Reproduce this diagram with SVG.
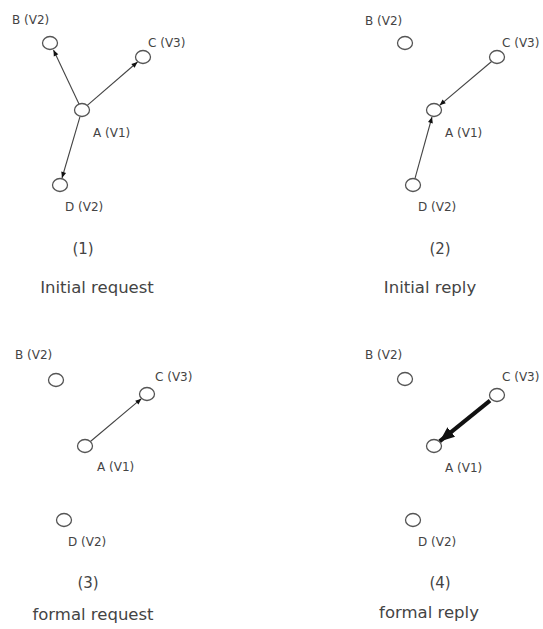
<svg xmlns="http://www.w3.org/2000/svg" width="543" height="629" viewBox="0 0 543 629">
<defs>
<style>
.node ellipse{fill:#fff;stroke:#555;stroke-width:1.3}
.lbl{font-family:"DejaVu Sans",sans-serif;font-size:12px;fill:#444}
.cap{font-family:"DejaVu Sans",sans-serif;font-size:16.5px;fill:#444;text-anchor:middle}
.num{font-family:"DejaVu Sans",sans-serif;font-size:15px;fill:#444;text-anchor:middle}
.thin{stroke:#444;stroke-width:1.1;fill:none;marker-end:url(#ah)}
.thick{stroke:#111;stroke-width:4;fill:none;marker-end:url(#ahb)}
</style>
<marker id="ah" markerUnits="userSpaceOnUse" markerWidth="8" markerHeight="8" viewBox="0 0 8 8" refX="7" refY="4" orient="auto">
<path d="M1,1.5 L7,4 L1,6.5 z" fill="#111"/>
</marker>
<marker id="ahb" markerUnits="userSpaceOnUse" markerWidth="16" markerHeight="14" viewBox="0 0 16 14" refX="15" refY="7" orient="auto">
<path d="M0,1 L15,7 L0,13 z" fill="#111"/>
</marker>
</defs>
<rect width="543" height="629" fill="#fff"/>
<g id="connectors">
<line class="thin" x1="79" y1="104" x2="53.5" y2="50"/>
<line class="thin" x1="87.3" y1="105.4" x2="137.5" y2="62"/>
<line class="thin" x1="80" y1="116.7" x2="62" y2="178"/>
<line class="thin" x1="491.6" y1="61.5" x2="439.6" y2="105.3"/>
<line class="thin" x1="415" y1="178.3" x2="432" y2="117"/>
<line class="thin" x1="90.4" y1="441.5" x2="141.4" y2="398.7"/>
<line class="thick" x1="490" y1="400.6" x2="439.6" y2="441.4"/>
</g>
<g id="p1">
<g id="p1-B" class="node"><ellipse cx="50" cy="43" rx="7.5" ry="6.5"/><text class="lbl" x="12" y="24">B (V2)</text></g>
<g id="p1-C" class="node"><ellipse cx="143" cy="57" rx="7.5" ry="6.5"/><text class="lbl" x="148" y="47">C (V3)</text></g>
<g id="p1-A" class="node"><ellipse cx="82" cy="110" rx="7.5" ry="6.5"/><text class="lbl" x="93" y="137">A (V1)</text></g>
<g id="p1-D" class="node"><ellipse cx="60" cy="185" rx="7.5" ry="6.5"/><text class="lbl" x="65" y="211">D (V2)</text></g>
<text class="num" x="83" y="254">(1)</text>
<text class="cap" x="97" y="293">Initial request</text>
</g>
<g id="p2">
<g id="p2-B" class="node"><ellipse cx="405" cy="43" rx="7.5" ry="6.5"/><text class="lbl" x="365" y="25">B (V2)</text></g>
<g id="p2-C" class="node"><ellipse cx="497" cy="57" rx="7.5" ry="6.5"/><text class="lbl" x="502" y="47">C (V3)</text></g>
<g id="p2-A" class="node"><ellipse cx="434" cy="110" rx="7.5" ry="6.5"/><text class="lbl" x="445" y="137">A (V1)</text></g>
<g id="p2-D" class="node"><ellipse cx="413" cy="185" rx="7.5" ry="6.5"/><text class="lbl" x="418" y="211">D (V2)</text></g>
<text class="num" x="440" y="254">(2)</text>
<text class="cap" x="430" y="293">Initial reply</text>
</g>
<g id="p3">
<g id="p3-B" class="node"><ellipse cx="56" cy="380" rx="7.5" ry="6.5"/><text class="lbl" x="15" y="359">B (V2)</text></g>
<g id="p3-C" class="node"><ellipse cx="147" cy="394" rx="7.5" ry="6.5"/><text class="lbl" x="155" y="381">C (V3)</text></g>
<g id="p3-A" class="node"><ellipse cx="85" cy="446" rx="7.5" ry="6.5"/><text class="lbl" x="97" y="471">A (V1)</text></g>
<g id="p3-D" class="node"><ellipse cx="64" cy="520" rx="7.5" ry="6.5"/><text class="lbl" x="68" y="546">D (V2)</text></g>
<text class="num" x="88" y="588">(3)</text>
<text class="cap" x="93" y="620">formal request</text>
</g>
<g id="p4">
<g id="p4-B" class="node"><ellipse cx="405" cy="379" rx="7.5" ry="6.5"/><text class="lbl" x="365" y="359">B (V2)</text></g>
<g id="p4-C" class="node"><ellipse cx="497" cy="395" rx="7.5" ry="6.5"/><text class="lbl" x="502" y="381">C (V3)</text></g>
<g id="p4-A" class="node"><ellipse cx="434" cy="446" rx="7.5" ry="6.5"/><text class="lbl" x="445" y="472">A (V1)</text></g>
<g id="p4-D" class="node"><ellipse cx="413" cy="520" rx="7.5" ry="6.5"/><text class="lbl" x="418" y="546">D (V2)</text></g>
<text class="num" x="440" y="588">(4)</text>
<text class="cap" x="429" y="618">formal reply</text>
</g>
</svg>
